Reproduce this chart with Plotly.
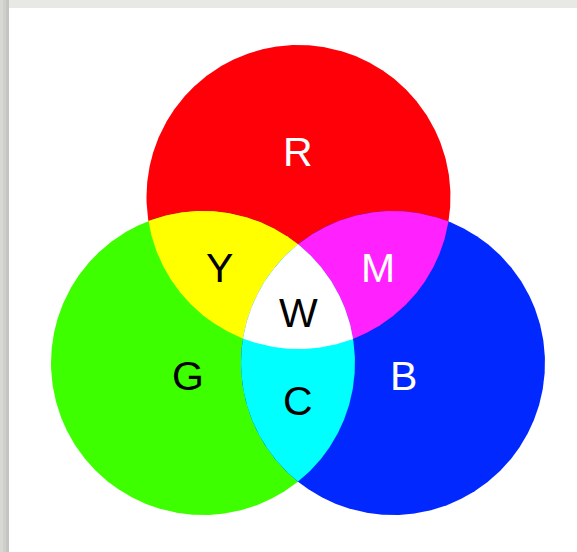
import numpy as np
import plotly.graph_objects as go

# Sets (primary lights) and their mixes
set_names = ["R", "G", "B"]
region_labels = ["R", "G", "B", "Y", "M", "C", "W"]
region_members = [["R"], ["G"], ["B"], ["R", "G"], ["R", "B"], ["G", "B"], ["R", "G", "B"]]
region_colors = ["#ff0008", "#3dff00", "#0028ff", "#ffff00", "#ff22ff", "#00ffff", "#ffffff"]
label_colors = ["white", "black", "white", "black", "white", "black", "black"]

# geometry (pixel space)
centers = {"R": (298.5, 197), "G": (203, 363), "B": (393, 363)}
radius = 152
label_pos = {"R": (298, 152), "G": (188, 376), "B": (403, 376), "Y": (219, 268),
             "M": (378, 268), "C": (298, 401), "W": (298, 313)}

W, H = 577, 552


def region_polygon(members):
    pts = []
    t = np.linspace(0, 2 * np.pi, 1441)
    for m in members:
        cx, cy = centers[m]
        xs = cx + radius * np.cos(t)
        ys = cy + radius * np.sin(t)
        ok = np.ones_like(xs, dtype=bool)
        for o in members:
            if o == m:
                continue
            ox, oy = centers[o]
            ok &= (xs - ox) ** 2 + (ys - oy) ** 2 <= radius ** 2 + 1e-6
        pts.append(np.column_stack([xs[ok], ys[ok]]))
    p = np.vstack(pts)
    c = p.mean(axis=0)
    order = np.argsort(np.arctan2(p[:, 1] - c[1], p[:, 0] - c[0]))
    p = p[order]
    return np.append(p[:, 0], p[0, 0]), np.append(p[:, 1], p[0, 1])


fig = go.Figure()
for lab, mem, col in zip(region_labels, region_members, region_colors):
    x, y = region_polygon(mem)
    fig.add_trace(go.Scatter(x=x, y=y, mode="lines", fill="toself", fillcolor=col,
                             line=dict(width=0, color=col), hoverinfo="skip", showlegend=False))

for lab, tc in zip(region_labels, label_colors):
    lx, ly = label_pos[lab]
    fig.add_annotation(x=lx, y=ly, text=lab, showarrow=False,
                       font=dict(family="Liberation Sans, Arial", size=41, color=tc),
                       xanchor="center", yanchor="middle")

shapes = [
    dict(type="rect", x0=0, x1=3, y0=0, y1=H, fillcolor="#d8d8d4", line_width=0, layer="below"),
    dict(type="rect", x0=3, x1=6, y0=0, y1=H, fillcolor="#cfcfcb", line_width=0, layer="below"),
    dict(type="rect", x0=6, x1=9, y0=0, y1=H, fillcolor="#c4c4c0", line_width=0, layer="below"),
    dict(type="rect", x0=9, x1=W, y0=0, y1=8, fillcolor="#e8e8e4", line_width=0, layer="below"),
    dict(type="rect", x0=9, x1=W + 5, y0=8, y1=H + 5, fillcolor="white", line_width=0, layer="below"),
]

fig.update_layout(
    width=W, height=H, margin=dict(l=0, r=0, t=0, b=0),
    paper_bgcolor="#e6e6e2", plot_bgcolor="rgba(0,0,0,0)",
    shapes=shapes,
    xaxis=dict(range=[0, W], visible=False, fixedrange=True),
    yaxis=dict(range=[H, 0], visible=False, fixedrange=True),
)
fig.write_html(
    "out.html",
    config={"displayModeBar": False},
    post_script="document.body.style.margin='0';document.body.style.overflow='hidden';"
                "document.body.style.background='#e6e6e2';",
)
